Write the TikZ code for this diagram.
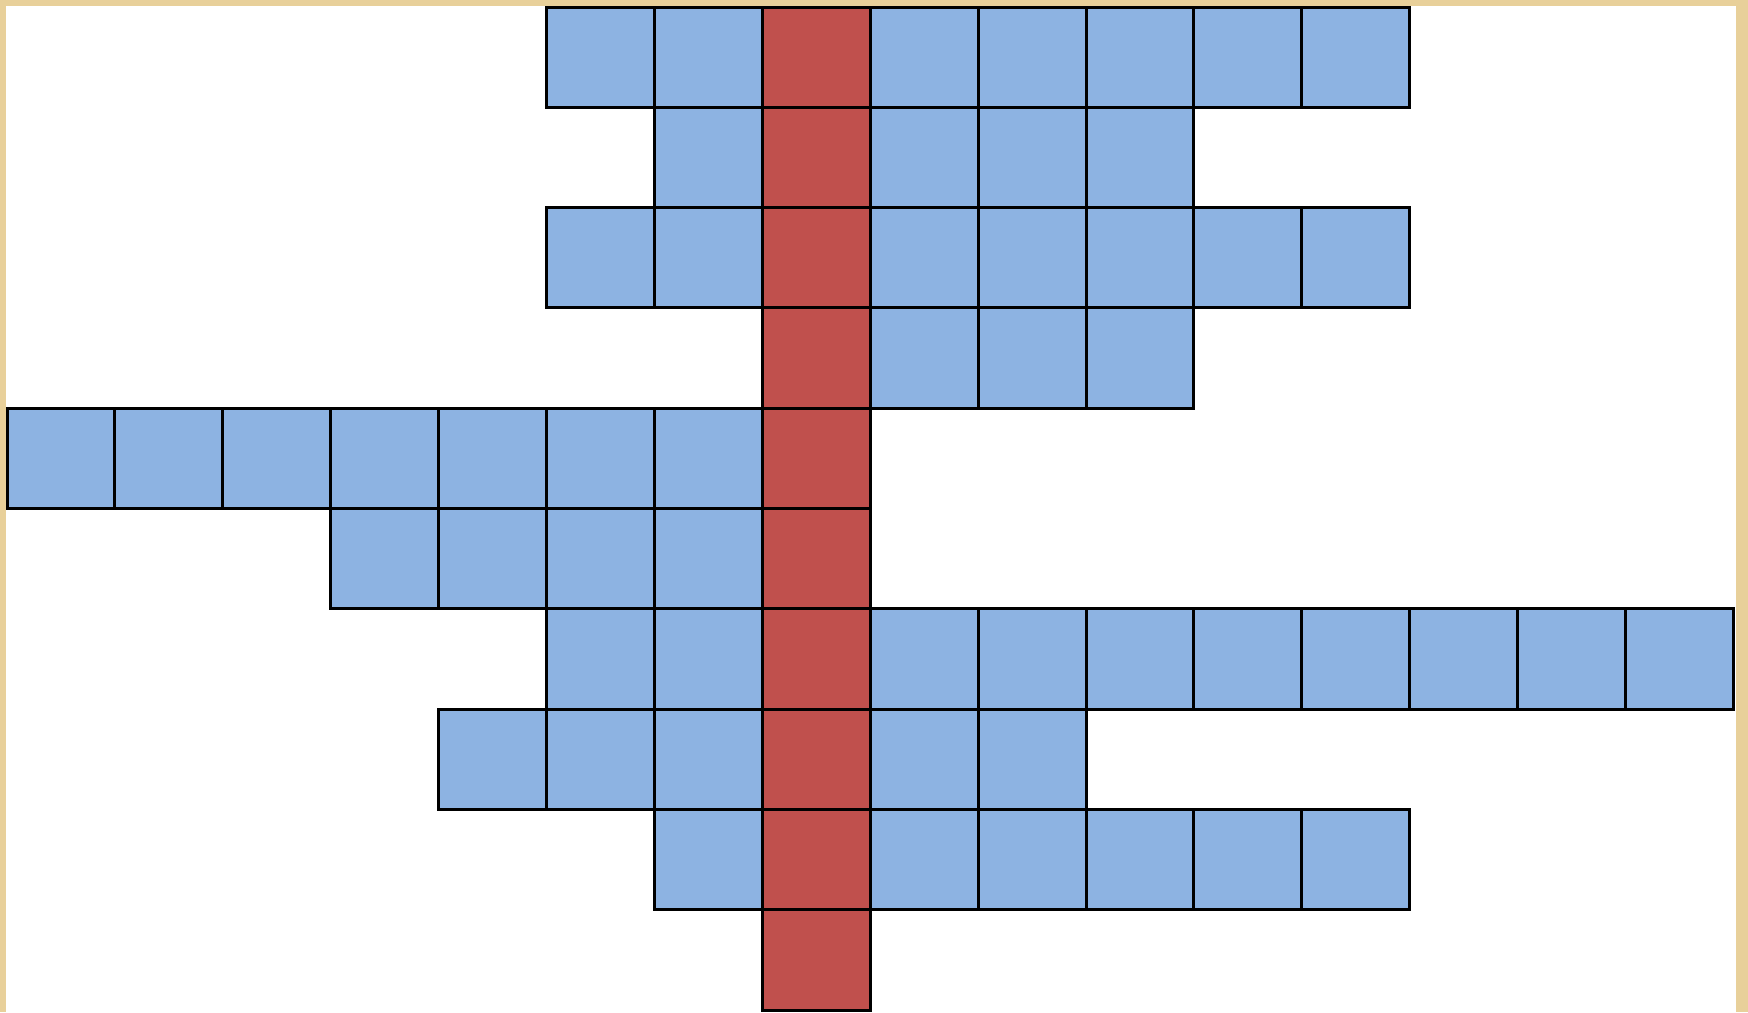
\documentclass[tikz,border=0pt]{standalone}
\usepackage{xcolor}
\usepackage{tikz}
\definecolor{cellblue}{HTML}{8DB3E2}
\definecolor{keyred}{HTML}{C0504D}
\definecolor{frametan}{HTML}{E8D09A}

\begin{document}
\begin{tikzpicture}[x=1.079cm,y=1.003cm,line width=0.85pt]
\fill[frametan] (-0.065,-0.02) rectangle (16.135,10.07);
\fill[white] (-0.009,-0.02) rectangle (16.024,10.01);
\foreach \r/\a/\b in {0/5/12,1/6/10,2/5/12,3/7/10,4/0/7,5/3/7,6/5/15,7/4/9,8/6/12,9/7/7}{\foreach \c in {\a,...,\b}{
  \ifnum\c=7 \def\cellcol{keyred}\else\def\cellcol{cellblue}\fi
  \draw[fill=\cellcol] (\c,9-\r) rectangle ++(1,1);
}}
\end{tikzpicture}
\end{document}
